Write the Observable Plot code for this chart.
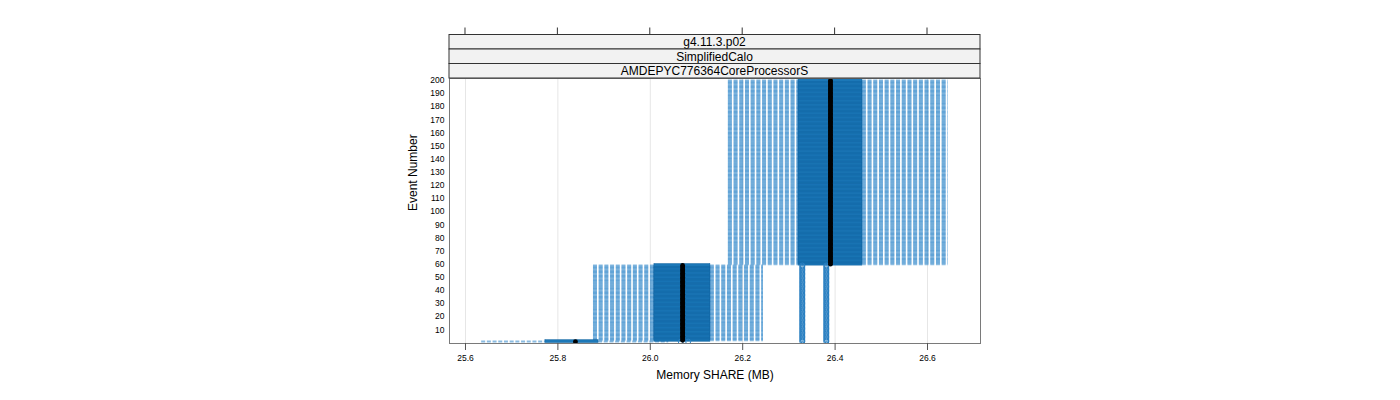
<!DOCTYPE html>
<html>
<head>
<meta charset="utf-8">
<script src="https://cdn.jsdelivr.net/npm/d3@7"></script>
<script src="https://cdn.jsdelivr.net/npm/@observablehq/plot@0.6"></script>
<style>
  html, body { margin: 0; padding: 0; background: #fff; }
  #chart { width: 1400px; height: 400px; }
</style>
</head>
<body>
<div id="chart"></div>
<script>
// ---- data ----
const stripLabels = ["g4.11.3.p02", "SimplifiedCalo", "AMDEPYC776364CoreProcessorS"];
const xTicks = [25.6, 25.8, 26.0, 26.2, 26.4, 26.6];
const yTicks = [10, 20, 30, 40, 50, 60, 70, 80, 90, 100, 110, 120, 130, 140, 150, 160, 170, 180, 190, 200];

// groups of consecutive events that share identical box statistics
const groupFirstEvent = [1, 2, 60];
const groupLastEvent  = [1, 59, 200];
const lowerWhisker = [25.635, 25.877, 26.169];
const lowerHinge   = [25.773, 26.009, 26.321];
const medianValue  = [25.838, 26.070, 26.390];
const upperHinge   = [25.888, 26.130, 26.459];
const upperWhisker = [26.040, 26.245, 26.645];

// outliers (open circles), each for a range of events
const outlierFirstEvent = [1, 1, 1, 1];
const outlierLastEvent  = [1, 1, 59, 59];
const outlierValue      = [26.066, 26.082, 26.329, 26.381];

// ---- build tables ----
const rows = [];
groupFirstEvent.forEach((f, g) => {
  for (let e = f; e <= groupLastEvent[g]; e++) {
    rows.push({event: e, lo: lowerWhisker[g], q1: lowerHinge[g], med: medianValue[g], q3: upperHinge[g], hi: upperWhisker[g]});
  }
});
const outliers = [];
outlierFirstEvent.forEach((f, i) => {
  for (let e = f; e <= outlierLastEvent[i]; e++) outliers.push({event: e, value: outlierValue[i]});
});

const blue = "#1f77b4";

const plot = Plot.plot({
  width: 1400,
  height: 400,
  marginLeft: 449,
  marginRight: 420,
  marginTop: 78,
  marginBottom: 57,
  style: {fontFamily: "'Liberation Sans', Arial, sans-serif", background: "#fff"},
  x: {domain: [25.5654, 26.7147]},
  y: {domain: [-0.44, 201.5]},
  marks: [
    Plot.gridX(xTicks, {stroke: "#e6e6e6", strokeOpacity: 1}),
    Plot.ruleY(rows, {y: "event", x1: "lo", x2: "q1", stroke: "#2a84c8", strokeOpacity: 0.55, strokeWidth: 2, strokeDasharray: "4,1.7", clip: true}),
    Plot.ruleY(rows, {y: "event", x1: "q3", x2: "hi", stroke: "#2a84c8", strokeOpacity: 0.55, strokeWidth: 2, strokeDasharray: "4,1.7", clip: true}),
    Plot.rect(rows, {x1: "q1", x2: "q3", y1: d => d.event - 1.1, y2: d => d.event + 1.1, fill: "#1c78b8", stroke: "#0f62a0", strokeWidth: 0.5, clip: true}),
    Plot.dot(outliers, {x: "value", y: "event", r: 2.5, stroke: "#2a80c2", fill: "none", strokeWidth: 1, clip: true}),
    Plot.dot(rows, {x: "med", y: "event", r: 2.4, fill: "black", stroke: "none", clip: true}),
    Plot.frame({stroke: "#7a7a7a"}),
    Plot.axisX(xTicks, {anchor: "bottom", tickSize: 7, tickPadding: 4, tickFormat: d3.format(".1f"), fontSize: 8.5, stroke: "#555", label: null}),
    Plot.axisY(yTicks, {anchor: "left", tickSize: 0, tickPadding: 5, fontSize: 8.5, label: null}),
    Plot.text(["Memory SHARE (MB)"], {frameAnchor: "bottom", dy: 35, fontSize: 12, fill: "#000"}),
    Plot.text(["Event Number"], {frameAnchor: "left", dx: -36, rotate: -90, fontSize: 12, fill: "#000"})
  ]
});

// strips and top ticks (lattice style), positioned from the plot's own x scale
const svg = d3.select(plot);
const xs = plot.scale("x");
const [px0, px1] = xs.range;
const stripH = 14.5;
const panelTop = 78;
const gStrip = svg.append("g");
stripLabels.forEach((lab, i) => {
  const y0 = panelTop - stripH * (stripLabels.length - i);
  gStrip.append("rect").attr("x", px0).attr("y", y0).attr("width", px1 - px0).attr("height", stripH)
    .attr("fill", "#f2f2f2").attr("stroke", "#333").attr("stroke-width", 1);
  gStrip.append("text").attr("x", (px0 + px1) / 2).attr("y", y0 + stripH / 2).attr("dy", "0.36em")
    .attr("text-anchor", "middle").attr("font-size", 12).attr("fill", "#000").text(lab);
});
const stripTop = panelTop - stripH * stripLabels.length;
xTicks.forEach(t => {
  const px = xs.apply(t);
  gStrip.append("line").attr("x1", px).attr("x2", px).attr("y1", stripTop).attr("y2", stripTop - 7)
    .attr("stroke", "#333");
});

document.getElementById("chart").appendChild(plot);
</script>
</body>
</html>
